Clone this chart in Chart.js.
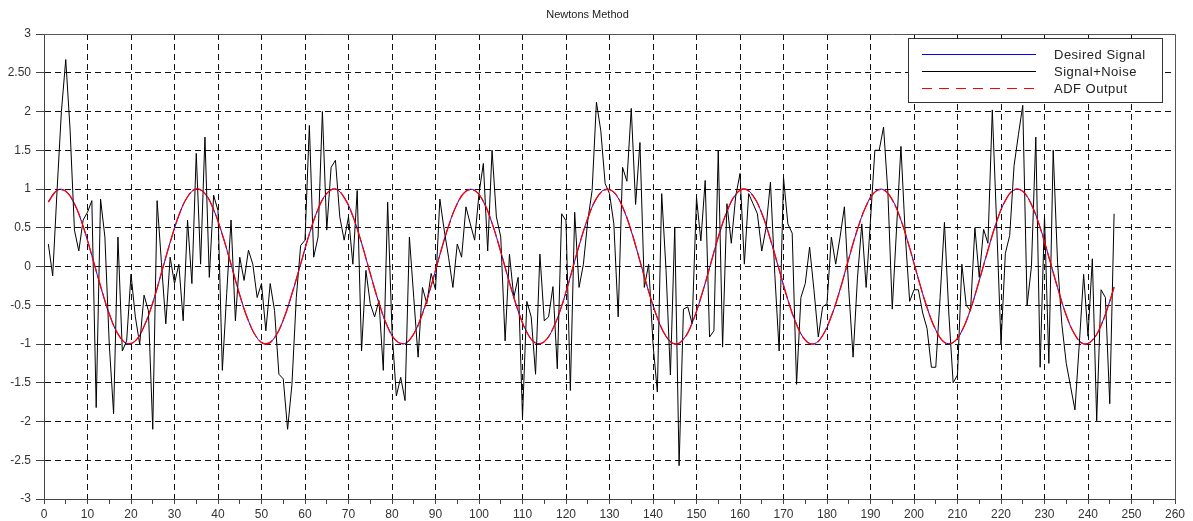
<!DOCTYPE html>
<html lang="en">
<head>
  <meta charset="UTF-8">
  <title>Newtons Method</title>
  <script src="https://cdn.jsdelivr.net/npm/chart.js"></script>
  <style>
    body { margin: 0; background: #fff; }
    #wrap { width: 1193px; height: 521px; }
  </style>
</head>
<body>
  <div id="wrap">
    <canvas id="adfChart" width="1193" height="521"></canvas>
  </div>

  <script>
    // sample index where the signals start (scilab 1-based)
    const firstSample = 1;

    // noisy input, one value per sample
    const signalNoise = [
      0.29, -0.12, 0.98, 2.0, 2.67, 1.76, 0.47, 0.2, 0.6, 0.7,
      0.85, -1.82, 0.87, 0.38, -1.0, -1.9, 0.38, -1.09, -0.96, -0.1,
      -0.65, -1.0, -0.37, -0.57, -2.1, 0.85, 0.05, -0.74, 0.12, -0.22,
      0.03, -0.7, 0.6, -0.22, 1.46, 0.03, 1.67, -0.14, 0.92, 0.72,
      -1.34, -0.35, 0.6, -0.7, 0.12, -0.18, 0.21, 0.03, -0.4, -0.22,
      -0.83, -0.22, -0.57, -1.39, -1.45, -2.1, -1.52, -0.4, 0.27, 0.34,
      1.82, 0.12, 0.38, 2.0, 0.47, 1.28, 1.37, 0.64, 0.34, 0.64,
      0.03, 0.98, -1.09, -0.05, -0.48, -0.65, -0.44, -1.34, 0.83, -0.83,
      -1.67, -1.43, -1.73, 0.38, -0.4, -1.17, -0.27, -0.48, -0.09, -0.3,
      0.87, 0.47, 0.12, -0.27, 0.29, 0.12, 0.77, 0.55, 0.34, 0.94,
      1.33, 0.2, 1.5, 0.64, 0.38, -0.96, 0.16, -0.4, -0.14, -1.95,
      -0.45, -0.65, -1.39, 0.16, -0.7, -0.65, -0.26, -1.32, 0.68, 0.59,
      -1.6, 0.7, -0.27, 0.03, 0.59, 0.98, 2.12, 1.75, 1.07, 0.94,
      0.55, -0.65, 1.28, 1.1, 2.04, 0.8, 1.6, -0.27, 0.03, -1.0,
      -1.62, 0.94, -0.05, -1.4, 0.51, -2.57, -0.55, -0.52, -0.74, 0.89,
      0.33, 1.11, -0.91, -0.83, 1.5, -1.04, 0.81, 0.3, 0.9, 1.2,
      0.03, 0.94, 0.81, 0.68, 0.2, 0.5, 1.09, -0.1, -1.09, 1.15,
      0.55, 0.43, -1.52, -0.4, -0.22, 0.25, -0.3, -0.91, -0.52, -0.48,
      0.38, 0.03, 0.38, 0.77, -0.3, -1.17, -0.15, 0.55, -0.27, 0.6,
      1.5, 1.5, 1.8, 0.95, -0.55, 0.5, 1.55, 0.4, -0.45, -0.3,
      -0.3, -0.6, -0.8, -1.3, -1.3, -0.4, 0.57, -0.6, -1.5, -1.4,
      0.03, -0.5, -0.57, 0.5, -0.14, 0.48, 0.3, 2.02, 0.55, -1.0,
      0.17, 0.4, 1.3, 1.7, 2.08, -0.5, 0.0, 1.67, -1.3, 0.65,
      -1.25, 1.5, 0.05, -0.75, -1.25, -1.55, -1.85, -1.0, -0.1, -0.9,
      0.1, -1.99, -0.3, -0.4, -1.77, 0.68
    ];

    // smooth curves, read every 2nd sample
    const smoothX = [
      1, 3, 5, 7, 9, 11, 13, 15, 17, 19, 21, 23, 25, 27, 29, 31, 33, 35, 37, 39,
      41, 43, 45, 47, 49, 51, 53, 55, 57, 59, 61, 63, 65, 67, 69, 71, 73, 75, 77, 79,
      81, 83, 85, 87, 89, 91, 93, 95, 97, 99, 101, 103, 105, 107, 109, 111, 113, 115, 117, 119,
      121, 123, 125, 127, 129, 131, 133, 135, 137, 139, 141, 143, 145, 147, 149, 151, 153, 155, 157, 159,
      161, 163, 165, 167, 169, 171, 173, 175, 177, 179, 181, 183, 185, 187, 189, 191, 193, 195, 197, 199,
      201, 203, 205, 207, 209, 211, 213, 215, 217, 219, 221, 223, 225, 227, 229, 231, 233, 235, 237, 239,
      241, 243, 245, 246
    ];

    const desiredSignal = [
      0.841, 0.985, 0.974, 0.808, 0.516, 0.141, -0.256, -0.612, -0.872, -0.994,
      -0.959, -0.773, -0.465, -0.083, 0.312, 0.657, 0.899, 0.999, 0.941, 0.734,
      0.412, 0.025, -0.366, -0.700, -0.924, -1.000, -0.918, -0.692, -0.354, 0.033,
      0.420, 0.740, 0.944, 0.999, 0.894, 0.650, 0.304, -0.091, -0.472, -0.778,
      -0.961, -0.993, -0.868, -0.605, -0.248, 0.150, 0.523, 0.812, 0.975, 0.984,
      0.837, 0.559, 0.190, -0.205, -0.574, -0.846, -0.986, -0.971, -0.802, -0.510,
      -0.132, 0.265, 0.620, 0.877, 0.995, 0.956, 0.766, 0.456, 0.073, -0.321,
      -0.664, -0.903, -0.999, -0.937, -0.727, -0.404, -0.016, 0.375, 0.707, 0.927,
      1.000, 0.914, 0.685, 0.345, -0.042, -0.428, -0.746, -0.947, -0.998, -0.890,
      -0.644, -0.296, 0.099, 0.479, 0.783, 0.964, 0.992, 0.864, 0.598, 0.239,
      -0.158, -0.530, -0.817, -0.977, -0.982, -0.832, -0.552, -0.182, 0.214, 0.580,
      0.851, 0.987, 0.969, 0.797, 0.503, 0.124, -0.273, -0.627, -0.882, -0.996,
      -0.953, -0.759, -0.447, -0.262
    ];

    const adfOutput = [
      0.83, 0.98, 0.97, 0.81, 0.52, 0.14, -0.25, -0.61, -0.87, -0.99,
      -0.96, -0.77, -0.47, -0.08, 0.31, 0.66, 0.90, 1.00, 0.94, 0.73,
      0.41, 0.03, -0.37, -0.70, -0.92, -1.00, -0.92, -0.69, -0.35, 0.03,
      0.42, 0.74, 0.94, 1.00, 0.89, 0.65, 0.30, -0.09, -0.47, -0.78,
      -0.96, -0.99, -0.87, -0.61, -0.25, 0.15, 0.52, 0.81, 0.97, 0.98,
      0.84, 0.56, 0.19, -0.21, -0.57, -0.85, -0.99, -0.97, -0.80, -0.51,
      -0.13, 0.27, 0.62, 0.88, 0.99, 0.96, 0.77, 0.46, 0.07, -0.32,
      -0.66, -0.90, -1.00, -0.94, -0.73, -0.40, -0.02, 0.38, 0.71, 0.93,
      1.00, 0.91, 0.69, 0.35, -0.04, -0.43, -0.75, -0.95, -1.00, -0.89,
      -0.64, -0.30, 0.10, 0.48, 0.78, 0.96, 0.99, 0.86, 0.60, 0.24,
      -0.16, -0.53, -0.82, -0.98, -0.98, -0.83, -0.55, -0.18, 0.21, 0.58,
      0.85, 0.99, 0.97, 0.80, 0.50, 0.12, -0.27, -0.63, -0.88, -1.00,
      -0.95, -0.76, -0.45, -0.27
    ];

    const seriesNames = ['Desired Signal', 'Signal+Noise', 'ADF Output'];

    // y tick text as printed in the original figure
    const yTickText = {
      '3': '3', '2.5': '2.50', '2': '2', '1.5': '1.5', '1': '1', '0.5': '0.5', '0': '0',
      '-0.5': '-0.5', '-1': '-1', '-1.5': '-1.5', '-2': '-2', '-2.5': '-2.5', '-3': '-3'
    };

    const toPoints = (xs, ys) => ys.map((y, i) => ({ x: xs[i], y: y }));
    const noisePoints = signalNoise.map((y, i) => ({ x: firstSample + i, y: y }));

    // plot box frame (top/right edges) + legend box in upper right
    const framePlugin = {
      id: 'framePlugin',
      afterDatasetsDraw(chart) {
        const { ctx, chartArea: a } = chart;
        ctx.save();
        ctx.strokeStyle = '#555';
        ctx.lineWidth = 1;
        ctx.beginPath();
        ctx.moveTo(a.left, a.top + 0.5);
        ctx.lineTo(a.right + 0.5, a.top + 0.5);
        ctx.lineTo(a.right + 0.5, a.bottom);
        ctx.stroke();

        // legend
        const bx = 908, by = 38, bw = 254, bh = 64;
        ctx.fillStyle = '#fff';
        ctx.fillRect(bx, by, bw, bh);
        ctx.strokeStyle = '#333';
        ctx.strokeRect(bx + 0.5, by + 0.5, bw, bh);

        const ds = chart.data.datasets;
        const rows = [54, 71, 88];
        ds.forEach((d, i) => {
          ctx.beginPath();
          ctx.strokeStyle = d.borderColor;
          ctx.lineWidth = 1;
          ctx.setLineDash(i === 2 ? [10, 7] : []);
          ctx.moveTo(922, rows[i] + 0.5);
          ctx.lineTo(1036, rows[i] + 0.5);
          ctx.stroke();
          ctx.setLineDash([]);
          ctx.fillStyle = '#222';
          ctx.font = '13px "Liberation Sans", Arial, sans-serif';
          ctx.textBaseline = 'middle';
          ctx.textAlign = 'left';
          if ('letterSpacing' in ctx) ctx.letterSpacing = '0.5px';
          ctx.fillText(d.label, 1054, rows[i] + 1);
        });
        ctx.restore();
      }
    };

    const ctx = document.getElementById('adfChart').getContext('2d');
    new Chart(ctx, {
      type: 'line',
      data: {
        datasets: [
          {
            label: seriesNames[0],
            data: toPoints(smoothX, desiredSignal),
            borderColor: '#0000ff',
            borderWidth: 1,
            pointRadius: 0,
            tension: 0.4,
            order: 3
          },
          {
            label: seriesNames[1],
            data: noisePoints,
            borderColor: '#000000',
            borderWidth: 1,
            pointRadius: 0,
            tension: 0,
            order: 2
          },
          {
            label: seriesNames[2],
            data: toPoints(smoothX, adfOutput),
            borderColor: '#ff0000',
            borderWidth: 1.3,
            borderDash: [16, 3],
            pointRadius: 0,
            tension: 0.4,
            order: 1
          }
        ]
      },
      options: {
        responsive: false,
        animation: false,
        layout: { padding: { left: 0, right: 18, top: 0, bottom: 0 } },
        plugins: {
          legend: { display: false },
          tooltip: { enabled: false },
          title: {
            display: true,
            text: 'Newtons Method',
            color: '#222',
            font: { family: '"Liberation Sans", Arial, sans-serif', size: 11, weight: 'normal' },
            padding: { top: 8, bottom: 12.8 }
          }
        },
        scales: {
          x: {
            type: 'linear',
            min: 0,
            max: 260,
            afterFit: (axis) => { axis.height = 22; },
            ticks: {
              stepSize: 5,
              autoSkip: false,
              maxRotation: 0,
              padding: 3,
              color: '#333',
              font: { family: '"Liberation Sans", Arial, sans-serif', size: 12 },
              callback: (v) => (v % 10 === 0 ? String(v) : '')
            },
            grid: {
              color: (c) => (c.tick && c.tick.value % 10 === 0 && c.tick.value > 0 && c.tick.value < 260 ? '#111' : 'rgba(0,0,0,0)'),
              lineWidth: 1,
              tickColor: '#444',
              tickLength: 5
            },
            border: { display: true, color: '#444', width: 1, dash: [6, 4] }
          },
          y: {
            min: -3,
            max: 3,
            afterFit: (axis) => { axis.width = 44; },
            ticks: {
              stepSize: 0.5,
              padding: 5,
              color: '#333',
              font: { family: '"Liberation Sans", Arial, sans-serif', size: 12 },
              callback: (v) => yTickText[String(v)] || String(v)
            },
            grid: {
              color: (c) => (c.tick && c.tick.value > -3 && c.tick.value < 3 ? '#111' : 'rgba(0,0,0,0)'),
              lineWidth: 1,
              tickColor: '#444',
              tickLength: 8
            },
            border: { display: true, color: '#444', width: 1, dash: [6, 4] }
          }
        }
      },
      plugins: [framePlugin]
    });
  </script>
</body>
</html>
